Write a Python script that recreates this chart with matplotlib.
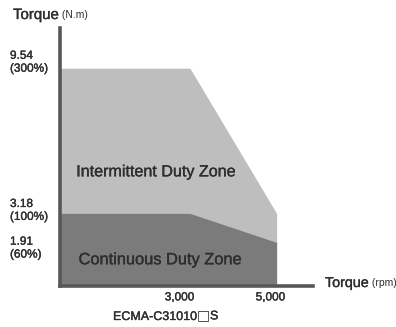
import matplotlib.pyplot as plt
import matplotlib.patheffects as pe
from matplotlib.transforms import blended_transform_factory

# curva de torque x velocidade
velocidade = [0, 3000, 5000]
torqueIntermitente = [9.54, 9.54, 3.18]
torqueContinuo = [3.18, 3.18, 1.91]

rotulosY = [9.54, 3.18, 1.91]
textosY = ['9.54\n(300%)', '3.18\n(100%)', '1.91\n(60%)']
rotulosX = [3000, 5000]
textosX = ['3,000', '5,000']

plt.rcParams['font.family'] = ['Liberation Sans', 'DejaVu Sans']
corTexto = '#2e2e2e'
corEixo = '#575757'
# contorno fino para engrossar um pouco as letras
traco = [pe.withStroke(linewidth=0.25, foreground=corTexto)]

fig = plt.figure(figsize=(3.96, 3.27), dpi=100)
ax = fig.add_axes([60 / 396, 41 / 327, 253 / 396, 258 / 327])
ax.set_xlim(0, 5840)
ax.set_ylim(0, 11.3)

ax.fill_between(velocidade, 0, torqueIntermitente, color='#bebebe', linewidth=0)
ax.fill_between(velocidade, 0, torqueContinuo, color='#7b7b7b', linewidth=0)

for lado in ['top', 'right']:
    ax.spines[lado].set_visible(False)
for lado in ['left', 'bottom']:
    ax.spines[lado].set_color(corEixo)
    ax.spines[lado].set_linewidth(2.6)
ax.set_xticks([])
ax.set_yticks([])

# rotulos do eixo y alinhados a esquerda da figura
trY = blended_transform_factory(fig.transFigure, ax.transData)
deslocY = [0.26, 0.13, -0.25]
for valor, texto, d in zip(rotulosY, textosY, deslocY):
    ax.text(10 / 396, valor + d, texto, transform=trY, ha='left', va='center',
            fontsize=8.5, color=corTexto, linespacing=1.1, path_effects=traco)

deslocX = [-240, -140]
for valor, texto, d in zip(rotulosX, textosX, deslocX):
    ax.text(valor + d, -0.5, texto, ha='center', va='center', fontsize=8.5,
            color=corTexto, path_effects=traco)

ax.text(2220, 5.0, 'Intermittent Duty Zone', ha='center', va='center', fontsize=11.6,
        color=corTexto, path_effects=traco)
ax.text(2310, 1.15, 'Continuous Duty Zone', ha='center', va='center', fontsize=11.8,
        color=corTexto, path_effects=traco)

tituloY = fig.text(13 / 396, 1 - 15 / 327, 'Torque', ha='left', va='center', fontsize=10.8,
                   color=corTexto, path_effects=traco)
ax.annotate(' (N.m)', xy=(1, 0.12), xycoords=tituloY, ha='left', va='bottom', fontsize=7.5,
            color=corTexto, annotation_clip=False)
tituloX = fig.text(325 / 396, 1 - 283 / 327, 'Torque', ha='left', va='center', fontsize=10.3,
                   color=corTexto, path_effects=traco)
ax.annotate(' (rpm)', xy=(1, 0.12), xycoords=tituloX, ha='left', va='bottom', fontsize=7.5,
            color=corTexto, annotation_clip=False)

# modelo do motor, com o quadrado desenhado em DejaVu
modelo = fig.text(113 / 396, 1 - 317 / 327, 'ECMA-C31010', ha='left', va='center',
                  fontsize=9, color=corTexto, path_effects=traco)
quadrado = ax.annotate('□', xy=(1, 0.05), xycoords=modelo, ha='left', va='bottom',
                       fontsize=10, color=corTexto, family='DejaVu Sans',
                       annotation_clip=False)
ax.annotate('S', xy=(1, 0), xycoords=quadrado, ha='left', va='bottom', fontsize=9,
            color=corTexto, annotation_clip=False, path_effects=traco)

plt.savefig('out.png', dpi=100)
